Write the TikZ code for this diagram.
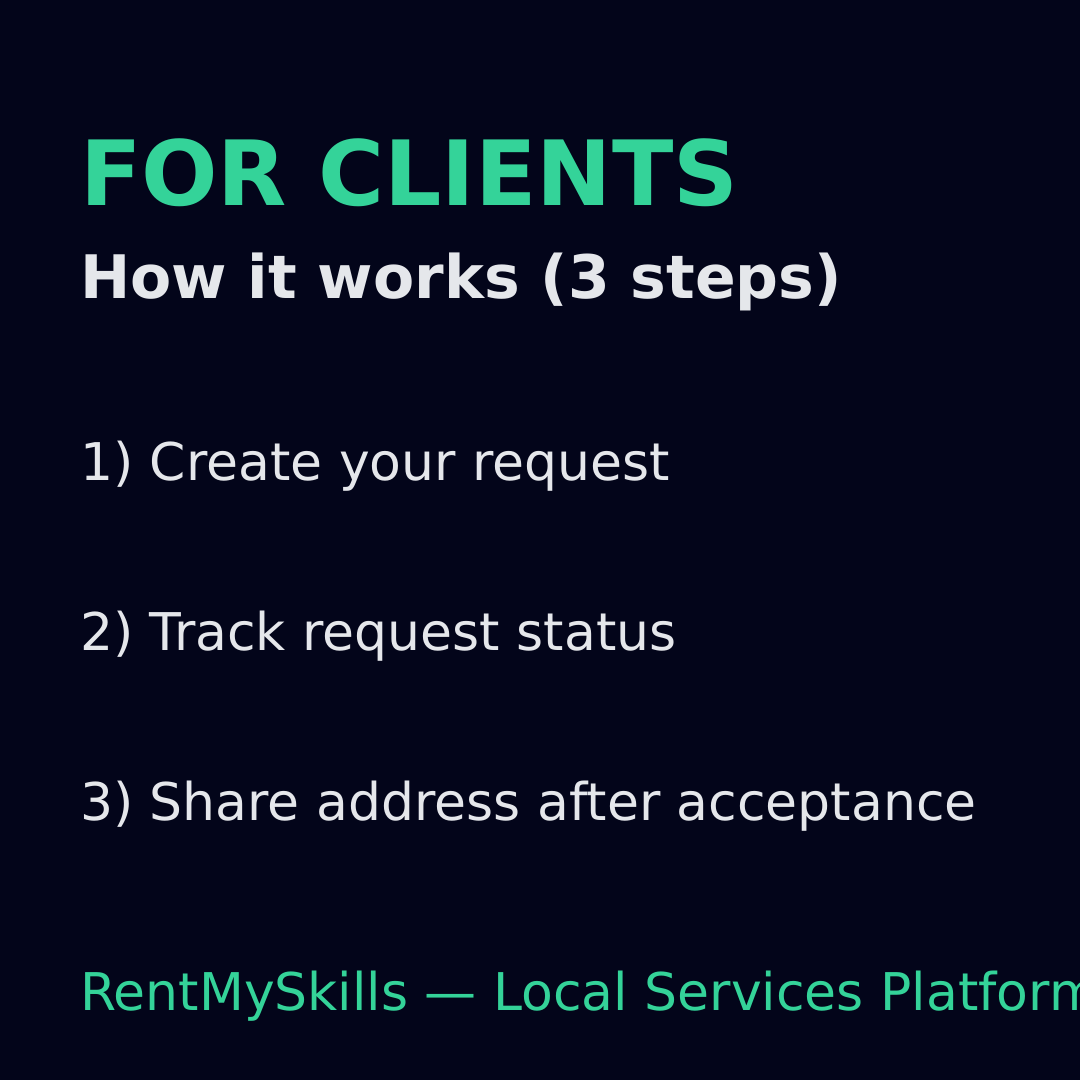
\documentclass[tikz,border=0pt]{standalone}
\usepackage{fontspec}
\setmainfont{DejaVu Sans}
\definecolor{bg}{HTML}{03051A}
\definecolor{gr}{HTML}{34D399}
\definecolor{tx}{HTML}{E5E7EB}
\begin{document}
\begin{tikzpicture}[x=1bp,y=-1bp,
  lbl/.style={anchor=base west,inner sep=0pt,outer sep=0pt}]
\fill[bg] (0,0) rectangle (1080,1080);
\useasboundingbox (0,0) rectangle (1080,1080);
\begin{scope}
\clip (0,0) rectangle (1080,1080);
\node[lbl,text=gr,font=\fontsize{90bp}{96bp}\bfseries] (t) at (80,205) {FOR CLIENTS};
\node[lbl,text=tx,font=\fontsize{60bp}{66bp}\bfseries] (s) at (80,298) {How it works (3 steps)};
\node[lbl,text=tx,font=\fontsize{52bp}{60bp}\selectfont] (a) at (80,480) {1) Create your request};
\node[lbl,text=tx,font=\fontsize{52bp}{60bp}\selectfont] (b) at (80,650) {2) Track request status};
\node[lbl,text=tx,font=\fontsize{52bp}{60bp}\selectfont] (c) at (80,820) {3) Share address after acceptance};
\node[lbl,text=gr,font=\fontsize{52bp}{60bp}\selectfont] (f) at (80,1010) {RentMySkills — Local Services Platform};
\end{scope}
\end{tikzpicture}
\end{document}
